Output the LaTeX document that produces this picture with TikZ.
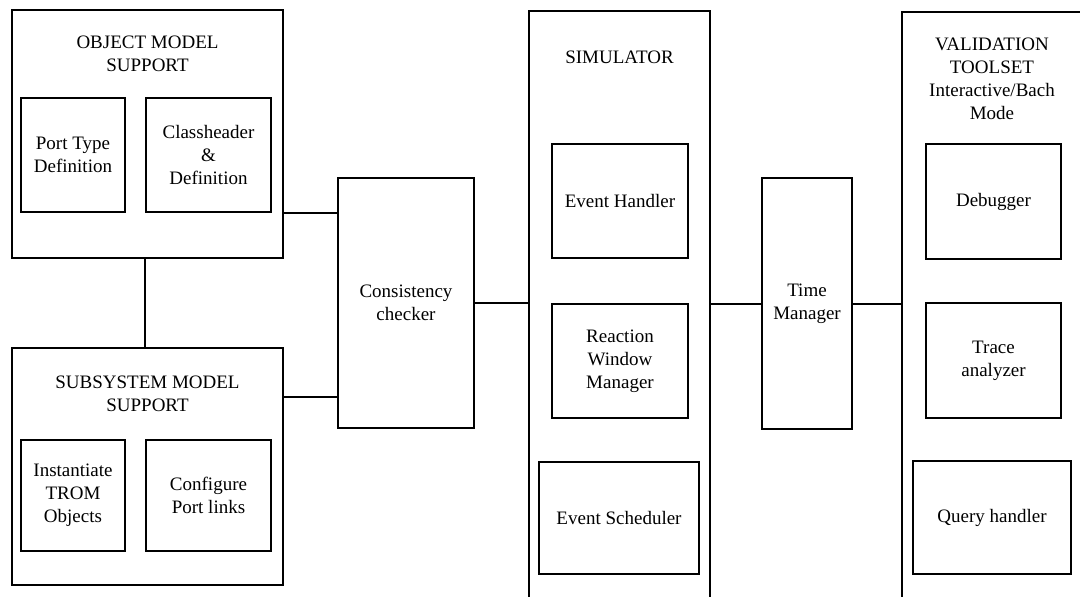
\documentclass[tikz,border=0pt]{standalone}
\usepackage{fontspec}
\setmainfont{Liberation Serif}
\usepackage{tikz}
\usetikzlibrary{positioning}

\begin{document}
\begin{tikzpicture}[
  x=0.5pt, y=-0.5pt,
  every node/.style={align=center, font=\fontsize{9.5}{11.5}\selectfont},
  outerbox/.style={rectangle, draw, line width=1pt, inner sep=0pt},
  block/.style={rectangle, draw, line width=1pt, inner sep=0pt},
  title/.style={inner sep=0pt},
  link/.style={line width=1pt}
]
\clip (0,0) rectangle (1080,596);

%% Left: object and subsystem model support
\node[outerbox, minimum width=135.5pt, minimum height=124pt] (objm) at (147.5,134) {};
\node[title] (objtitle) at (147.5,54) {OBJECT MODEL\\SUPPORT};
\node[block, minimum width=52pt, minimum height=57pt] (porttype) at (73,155) {Port Type\\Definition};
\node[block, minimum width=62.5pt, minimum height=57pt] (classhdr) at (208.5,155) {Classheader\\\&\\Definition};

\node[outerbox, minimum width=135.5pt, minimum height=118.5pt] (subm) at (147.5,466.5) {};
\node[title] (subtitle) at (147.5,394) {SUBSYSTEM MODEL\\SUPPORT};
\node[block, minimum width=52pt, minimum height=55.5pt] (inst) at (73,495.5) {Instantiate\\TROM\\Objects};
\node[block, minimum width=62.5pt, minimum height=55.5pt] (config) at (208.5,495.5) {Configure\\Port links};

%% Middle
\node[block, minimum width=68pt, minimum height=125pt] (checker) at (406,303) {Consistency\\checker};

%% Simulator
\node[outerbox, minimum width=90.5pt, minimum height=314.5pt] (sim) at (619.5,325.5) {};
\node[title] (simtitle) at (619.5,57) {SIMULATOR};
\node[block, minimum width=68pt, minimum height=57pt] (evh) at (620,201) {Event Handler};
\node[block, minimum width=68pt, minimum height=57pt] (rwm) at (620,361) {Reaction\\Window\\Manager};
\node[block, minimum width=80pt, minimum height=56pt] (evs) at (619,518) {Event Scheduler};

\node[block, minimum width=45pt, minimum height=125.5pt] (timem) at (807,303.5) {Time\\Manager};

%% Validation toolset
\node[outerbox, minimum width=99pt, minimum height=314pt] (valid) at (1001,326) {};
\node[title] (validtitle) at (992,79) {VALIDATION\\TOOLSET\\Interactive/Bach\\Mode};
\node[block, minimum width=67.5pt, minimum height=57.5pt] (debug) at (993.5,201.5) {Debugger};
\node[block, minimum width=67.5pt, minimum height=57.5pt] (trace) at (993.5,360.5) {Trace\\analyzer};
\node[block, minimum width=79pt, minimum height=56.5pt] (query) at (992,517.5) {Query handler};

%% Connections
\coordinate (objlink) at (0,213);
\coordinate (sublink) at (0,397);
\draw[link] (objm.south -| classhdr.west) -- (subm.north -| classhdr.west);
\draw[link] (objm.east |- objlink) -- (checker.west |- objlink);
\draw[link] (subm.east |- sublink) -- (checker.west |- sublink);
\draw[link] (checker.east) -- (checker.east -| sim.west);
\draw[link] (timem.west -| sim.east) -- (timem.west);
\draw[link] (timem.east) -- (timem.east -| valid.west);

\end{tikzpicture}
\end{document}
